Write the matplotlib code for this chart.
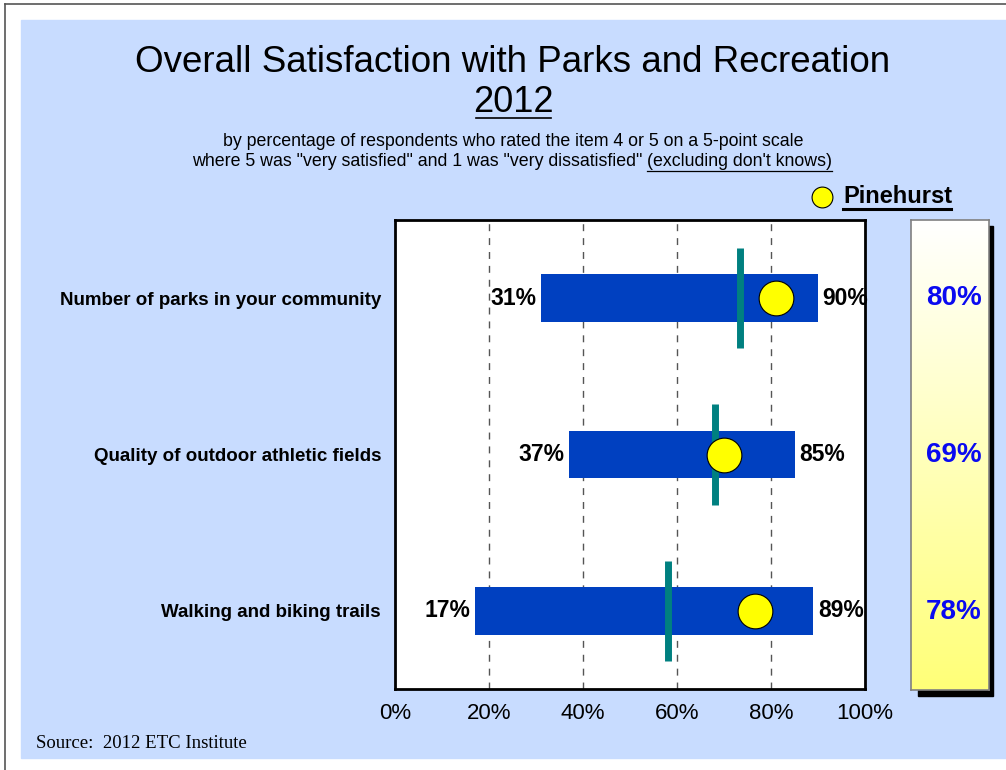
import numpy as np
import matplotlib.pyplot as plt
from matplotlib.patches import Rectangle

# data
items = ['Number of parks in your community',
         'Quality of outdoor athletic fields',
         'Walking and biking trails']
low = [31, 37, 17]
high = [90, 85, 89]
average = [73.5, 68, 58]          # teal line (national average)
pinehurst_pos = [81, 70, 76.5]    # where the yellow dot sits
pinehurst = ['80%', '69%', '78%']
ticks = [0, 20, 40, 60, 80, 100]

W, H = 1006, 770
fig = plt.figure(figsize=(W / 100, H / 100), dpi=100)
plt.rcParams['font.family'] = ['Liberation Sans', 'DejaVu Sans']

def fx(px):
    return px / W

def fy(py):
    return 1 - py / H

# page background and border
bg = '#C8DCFF'
fig.patches.append(Rectangle((fx(21), fy(758)), 1 - fx(21), fy(20) - fy(758),
                             transform=fig.transFigure, color=bg, zorder=-10))
fig.add_artist(plt.Line2D([fx(5), 1], [fy(4), fy(4)], color='#555555', lw=1.2))
fig.add_artist(plt.Line2D([fx(5), fx(5)], [fy(4), 0], color='#555555', lw=1.2))

# titles
fig.text(0.51, fy(63), 'Overall Satisfaction with Parks and Recreation',
         ha='center', va='center', fontsize=26.5)
fig.text(0.51, fy(102), '2012', ha='center', va='center', fontsize=26)
fig.add_artist(plt.Line2D([fx(476), fx(551)], [fy(118), fy(118)], color='black', lw=1.2))
fig.text(0.51, fy(142), 'by percentage of respondents who rated the item 4 or 5 on a 5-point scale',
         ha='center', va='center', fontsize=12.8)
t1 = fig.text(fx(192), fy(162), 'where 5 was "very satisfied" and 1 was "very dissatisfied" ',
              ha='left', va='center', fontsize=12.8)
fig.canvas.draw()
x_end = t1.get_window_extent().x1
t2 = fig.text(x_end / W, fy(162), '(excluding don\'t knows)', ha='left', va='center',
              fontsize=12.8)
fig.canvas.draw()
e2 = t2.get_window_extent()
fig.add_artist(plt.Line2D([e2.x0 / W, e2.x1 / W], [fy(171), fy(171)], color='black', lw=0.9))

# legend
fig.add_artist(plt.Line2D([fx(822)], [fy(197)], marker='o', ms=15, mfc='#FFFF00',
                          mec='black', mew=0.8, ls='none'))
fig.text(fx(843), fy(197), 'Pinehurst', ha='left', va='center', fontsize=17, fontweight='bold')
fig.add_artist(plt.Line2D([fx(843), fx(951)], [fy(209), fy(209)], color='black', lw=2.2))

# main chart
ax = fig.add_axes([fx(395), fy(689), fx(865) - fx(395), fy(220) - fy(689)])
ax.set_zorder(2)
ax.set_xlim(0, 100)
ax.set_ylim(3, 0)
y = np.arange(len(items)) + 0.5
for g in ticks[1:-1]:
    ax.axvline(g, color='#555555', ls=(0, (5, 5)), lw=1, zorder=1)
ax.barh(y, np.array(high) - np.array(low), left=low, height=0.305,
        color='#0040C0', zorder=2)
for i in range(len(items)):
    ax.plot([average[i], average[i]], [y[i] - 0.32, y[i] + 0.32],
            color='#008080', lw=5, solid_capstyle='butt', zorder=3)
    ax.text(low[i] - 1, y[i], '%d%%' % low[i], ha='right', va='center',
            fontsize=16.5, fontweight='bold', zorder=5)
    ax.text(high[i] + 1, y[i], '%d%%' % high[i], ha='left', va='center',
            fontsize=16.5, fontweight='bold', zorder=5, clip_on=False)
ax.plot(pinehurst_pos, y, 'o', ms=25, mfc='#FFFF00', mec='black', mew=0.8, zorder=4)
ax.set_yticks(y)
ax.set_yticklabels(items, fontsize=13.5, fontweight='bold')
ax.tick_params(axis='y', length=0, pad=10)
ax.set_xticks(ticks)
ax.set_xticklabels(['%d%%' % v for v in ticks], fontsize=16)
ax.tick_params(axis='x', length=0, pad=10)
for s in ax.spines.values():
    s.set_linewidth(2)

# right panel with shadow
fig.patches.append(Rectangle((fx(918), fy(696)), fx(993) - fx(918), fy(226) - fy(696),
                             transform=fig.transFigure, color='black', zorder=-5))
pax = fig.add_axes([fx(911), fy(690), fx(989) - fx(911), fy(220) - fy(690)])
pax.set_zorder(2)
grad = np.linspace(0, 1, 256).reshape(-1, 1)
top = np.array([1.0, 1.0, 1.0])
bot = np.array([1.0, 1.0, 0.47])
img = top + (bot - top) * grad[:, :, None]
pax.imshow(img, aspect='auto', extent=[0, 1, 3, 0])
pax.set_xlim(0, 1)
pax.set_ylim(3, 0)
pax.set_xticks([])
pax.set_yticks([])
for s in pax.spines.values():
    s.set_color('#808080')
    s.set_linewidth(1.2)
for i in range(len(items)):
    pax.text(0.55, y[i], pinehurst[i], ha='center', va='center', color='#0A0AF0',
             fontsize=20, fontweight='bold')

fig.text(fx(36), fy(743), 'Source:  2012 ETC Institute', ha='left', va='center',
         fontsize=13.5, family=['Liberation Serif', 'DejaVu Serif'])

fig.savefig('out.png', dpi=100)
